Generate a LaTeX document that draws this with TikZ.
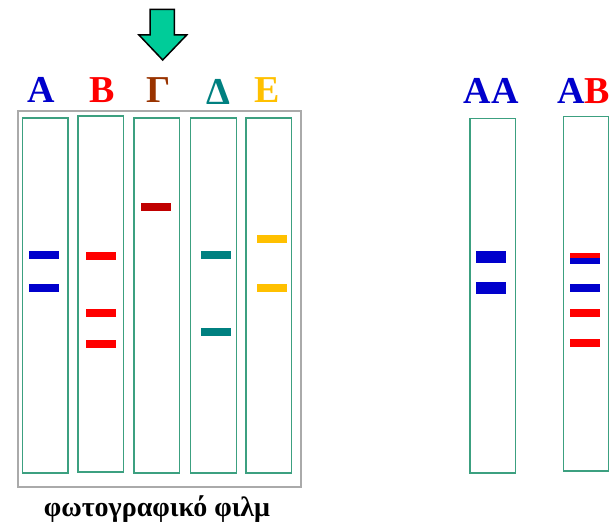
\documentclass[tikz,border=0pt]{standalone}
\usepackage{fontspec}
\setmainfont{Liberation Serif}
\definecolor{laneC}{RGB}{60,160,128}
\definecolor{boxC}{RGB}{170,170,170}
\definecolor{cA}{RGB}{0,0,204}
\definecolor{cB}{RGB}{255,0,0}
\definecolor{cG}{RGB}{153,51,0}
\definecolor{cGband}{RGB}{192,0,0}
\definecolor{cD}{RGB}{0,128,128}
\definecolor{cE}{RGB}{255,192,0}
\definecolor{arrowC}{RGB}{0,204,153}
\begin{document}
\begin{tikzpicture}[x=1pt,y=-1pt,
  lane/.style={draw=laneC,line width=1.2pt},
  band/.style={inner sep=0pt,minimum width=30pt,minimum height=8pt},
  bigband/.style={inner sep=0pt,minimum width=30pt,minimum height=12pt},
  halfband/.style={inner sep=0pt,minimum width=30pt,minimum height=6pt},
  lbl/.style={font=\fontsize{38}{38}\selectfont\bfseries,inner sep=0pt,anchor=base}]
\useasboundingbox (0,0) rectangle (609,526);
% film box
\draw[boxC,line width=2pt] (18.3,110.7) rectangle (300.7,487);
% lanes
\draw[lane] (22.5,118) rectangle (68,473);
\draw[lane] (78,116) rectangle (123.5,472);
\draw[lane] (134,118) rectangle (179.7,473);
\draw[lane] (190.3,118) rectangle (236.3,473);
\draw[lane] (246,118) rectangle (291.3,473);
\draw[lane] (470,118.3) rectangle (515.3,473);
\draw[lane] (563.3,116.3) rectangle (608.5,471);
% labels
\node[lbl,text=cA] (lA) at (41.7,103) {A};
\node[lbl,text=cB] (lB) at (101.7,103) {B};
\node[lbl,text=cG] (lG) at (159,103) {Γ};
\node[lbl,text=cD] (lD) at (218,105) {Δ};
\node[lbl,text=cE] (lE) at (266.7,103) {E};
\node[lbl,text=cA] (lAA) at (491,104) {AA};
\node[lbl] (lAB) at (583.5,104) {\textcolor{cA}{A}\textcolor{cB}{B}};
% arrow
\draw[black,line width=1.5pt,fill=arrowC,line join=miter]
  (150,9.3) -- (174.3,9.3) -- (174.3,35) -- (186.7,35) -- (162.7,60)
  -- (139,35) -- (150,35) -- cycle;
% bands
\node[band,fill=cA] (a1) at (44,255) {};
\node[band,fill=cA] (a2) at (44,288.3) {};
\node[band,fill=cB] (b1) at (100.5,255.7) {};
\node[band,fill=cB] (b2) at (100.5,313) {};
\node[band,fill=cB] (b3) at (100.5,343.5) {};
\node[band,fill=cGband] (g1) at (155.5,207.3) {};
\node[band,fill=cD] (d1) at (216,255) {};
\node[band,fill=cD] (d2) at (216,332) {};
\node[band,fill=cE] (e1) at (272,239) {};
\node[band,fill=cE] (e2) at (272,288.3) {};
\node[bigband,fill=cA] (aa1) at (490.8,257) {};
\node[bigband,fill=cA] (aa2) at (490.8,287.5) {};
\node[halfband,fill=cB] (ab1) at (585.2,255.5) {};
\node[halfband,fill=cA] (ab2) at (585.2,261.2) {};
\node[band,fill=cA] (ab3) at (585.2,288.2) {};
\node[band,fill=cB] (ab4) at (585.2,313.3) {};
\node[band,fill=cB] (ab5) at (585.2,343.3) {};
% caption
\node[font=\fontsize{28}{28}\selectfont\bfseries,anchor=base,inner sep=0pt] (cap) at (157,516) {φωτογραφικό φιλμ};
\end{tikzpicture}
\end{document}
